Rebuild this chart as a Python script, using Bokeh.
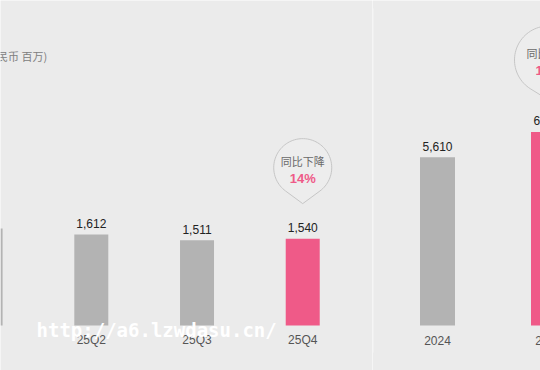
import numpy as np
from bokeh.plotting import figure
from bokeh.layouts import row
from bokeh.models import Range1d, Label, ColumnDataSource
from bokeh.core.properties import value
from bokeh.embed import file_html
from bokeh.resources import INLINE

# ---------------- data ----------------
quarters = ["25Q1", "25Q2", "25Q3", "25Q4"]
quarter_values = [1720, 1612, 1511, 1540]
years = ["2024", "2025"]
year_values = [5610, 6450]
highlight = ["25Q4", "2025"]
unit_text = "(单位：人民币 百万)"
q_badge = ["同比下降", "14%"]
y_badge = ["同比增长", "15%"]
watermark = "http://a6.lzwdasu.cn/"

# ---------------- style ----------------
BG = "#ebebeb"
GRAY = "#b3b3b3"
PINK = "#ef5a88"
H = 370
NUM_FONT = "Liberation Sans"
CJK_FONT = "Noto Sans CJK SC"


def make_fig(width, xr, yr):
    p = figure(width=width, height=H, x_range=xr, y_range=yr,
               output_backend="svg", toolbar_location=None,
               x_axis_location=None, y_axis_location=None,
               min_border=0, background_fill_color=BG, border_fill_color=BG,
               outline_line_color=None)
    p.grid.visible = False
    return p


def scales(p, width):
    sx = width / (p.x_range.end - p.x_range.start)
    sy = H / (p.y_range.end - p.y_range.start)
    return sx, sy


def bars(p, cats, vals, width_units):
    xs = list(range(len(cats)))
    colors = [PINK if c in highlight else GRAY for c in cats]
    src = ColumnDataSource(dict(x=xs, top=vals, color=colors))
    p.vbar(x="x", top="top", bottom=0, width=width_units, color="color",
           line_color=None, source=src)
    # only label bars whose centre lies inside the visible panel
    vis = [i for i in xs if p.x_range.start <= i <= p.x_range.end + 0.2]
    lsrc = ColumnDataSource(dict(x=vis, top=[vals[i] for i in vis],
                                 cat=[cats[i] for i in vis],
                                 lbl=[f"{vals[i]:,}" for i in vis]))
    p.text(x="x", y="top", text="lbl", source=lsrc, text_align="center",
           text_baseline="alphabetic", y_offset=-11, text_color="#222222",
           text_font=value(NUM_FONT), text_font_size="12px")
    p.text(x="x", y=0, text="cat", source=lsrc, text_align="center",
           text_baseline="alphabetic", y_offset=15, text_color="#555555",
           text_font=value(NUM_FONT), text_font_size="12px")


def badge(p, width, idx, top, lines, R=29, D=36, lift=71):
    sx, sy = scales(p, width)
    th = np.arccos(R / D)
    phi = np.linspace(-np.pi / 2 + th, 1.5 * np.pi - th, 80)
    px = np.concatenate([[0], R * np.cos(phi), [0]])
    py = np.concatenate([[-D], R * np.sin(phi), [-D]])
    xs = idx + px / sx
    ys = top + (lift + py) / sy
    p.patch(xs, ys, fill_color="#ededed", line_color="#c6c6c6", line_width=1)
    p.text(x=[idx], y=[top + lift / sy], text=[lines[0]], text_align="center",
           text_baseline="middle", y_offset=-7, text_color="#6a6a6a",
           text_font=value(CJK_FONT), text_font_size="11px")
    p.text(x=[idx], y=[top + lift / sy], text=[lines[1]], text_align="center",
           text_baseline="middle", y_offset=11, text_color=PINK,
           text_font=value(NUM_FONT), text_font_size="13px",
           text_font_style="bold")


# ---------------- left panel: quarters ----------------
W1 = 372
p1 = make_fig(W1, Range1d(0.141, 3.660), Range1d(-798, 5762))
sx1, _ = scales(p1, W1)
bars(p1, quarters, quarter_values, 34 / sx1)
qi = quarters.index("25Q4")
badge(p1, W1, qi, quarter_values[qi], q_badge)
p1.add_layout(Label(x=46.7, y=H - 55, x_units="screen", y_units="screen",
                    text=unit_text, text_align="right", text_baseline="middle",
                    text_font=CJK_FONT, text_font_size="11px",
                    text_color="#808080"))

# ---------------- right panel: years ----------------
W2 = 168
p2 = make_fig(W2, Range1d(-0.5856, 0.9279), Range1d(-1500, 10833))
sx2, sy2 = scales(p2, W2)
bars(p2, years, year_values, 35 / sx2)
yi = years.index("2025")
badge(p2, W2, yi, year_values[yi], y_badge, R=34, D=40, lift=72)
# thin divider between the two panels
xl = p2.x_range.start + 0.5 / sx2
p2.segment(x0=[xl], x1=[xl], y0=[p2.y_range.end - 8 / sy2],
           y1=[p2.y_range.start + 18 / sy2], line_color="#f6f6f6",
           line_width=1)

# watermark overlay
p1.add_layout(Label(x=36, y=H - 329, x_units="screen", y_units="screen",
                    text=watermark, text_align="left",
                    text_baseline="alphabetic", text_font="DejaVu Sans Mono",
                    text_font_style="bold", text_font_size="19px",
                    text_color="#ffffff"))

layout = row(p1, p2, spacing=0)
open("out.html", "w").write(file_html(layout, INLINE))
